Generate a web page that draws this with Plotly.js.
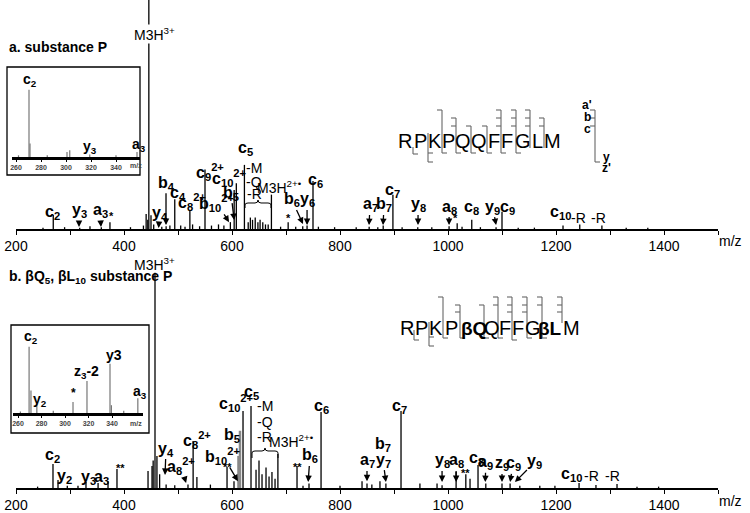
<!DOCTYPE html>
<html><head><meta charset="utf-8">
<script src="https://cdn.plot.ly/plotly-3.0.1.min.js"></script>
<style>html,body{margin:0;padding:0;background:#fff}#chart{width:750px;height:513px}</style>
</head><body><div id="chart"></div>
<script>
// ---------------- data ----------------
const tickVals = [200,300,400,500,600,700,800,900,1000,1100,1200,1300,1400,1500];
const tickText = ['200','','400','','600','','800','','1000','','1200','','1400',''];
const insetTickVals = [260,280,300,320,340];
const insetTickText = ['260','280','300','320','340'];

// panel a: substance P (m/z, relative intensity)
const aMz  = [250,269,290,318,337,358,374,412,436,441,444,446,450,455,470,478,485,494,505,513,522,527,540,550,562,575,585,597,604,608,623,630,634,638,643,648,652,657,662,667,673,690,704,718,731,739,750,760,790,830,854,870,880,898,915,944,970,1002,1017,1026,1044,1060,1089,1100,1130,1160,1213,1244,1285,1330,1370];
const aInt = [0.6,6.1,0.8,0.6,1.2,0.8,3,0.8,1.5,6.5,4,100,6,2,1,1.2,1.5,13,1.5,1,8.3,2,1.2,26,1.5,2,1.5,3,17,20,28,3,5,4,5,3,4,3,2,2,15,1,3,1,1.2,1.5,21,1,0.8,0.8,1,0.8,1.5,15,0.8,0.8,0.8,1.2,2.5,1,4,0.8,0.8,7.5,0.6,0.6,1.5,2,1.5,0.5,0.5];

// panel b: betaQ5, betaL10 substance P
const bMz  = [240,268.5,277.8,295,314.8,329.6,352,370.4,387,444.5,451.9,454,457.4,461,466,478,494,518.5,528,535,560,590.8,603.7,620.4,635.2,644.5,650,655.6,663,668.6,674,679.7,685,720.4,731.5,742.6,764.9,800,840.8,850,859,874,885,913,948,979.7,989,1015,1033,1040.8,1055.6,1070,1100,1115,1133,1170,1198,1242.7,1274,1313,1350,1390];
const bInt = [0.6,10.5,3.5,1,1,2.6,2.2,3,8.3,7.4,9.6,12,94,14,6,1.5,1.2,1.5,20.5,4.8,1.5,9.2,3,33.6,35.8,8,12,6,9,5,7,4,14.8,9.6,1,2,33.2,1,3,2,1.5,3,2,33.6,2,2,1.2,7,6,4,10,2,2,2,1,1,1,2.2,1.3,1.8,0.6,0.6];
const bGrayMz  = [612,614.8];
const bGrayInt = [14,25];

// insets (m/z 256-366)
const aInsetMz  = [262,270.4,271.2,285,300.8,303,319,340,356.8];
const aInsetInt = [2,79,16,2,6,8,3,2,6];
const bInsetMz  = [262,269.4,271,276,290,306.8,318.7,338.3,339.5,350,362];
const bInsetInt = [2,85,29,11.5,3,14,41,63,10,3,19];

// peptide sequences
const seqA = ['R','P','K','P','Q','Q','F','F','G','L','M'];
const seqB = ['R','P','K','P','βQ','Q','F','F','G','βL','M'];
const seqBBold = [false,false,false,false,true,false,false,false,false,true,false];

// ---------------- helpers ----------------
const W = 750, H = 513;
const X = px => px / W;
const Y = py => (H - py) / H;
const LF = '"Liberation Sans Narrow", "Liberation Sans", Arial, sans-serif';
const RF = '"Liberation Sans", Arial, sans-serif';

function sticks(mz, inten) {
  const x = [], y = [];
  for (let i = 0; i < mz.length; i++) { x.push(mz[i], mz[i], null); y.push(0, inten[i], null); }
  return {x, y};
}
function stickTrace(mz, inten, xa, ya, color, w) {
  const s = sticks(mz, inten);
  return {type:'scatter', mode:'lines', x:s.x, y:s.y, xaxis:xa, yaxis:ya,
          line:{color:color, width:w}, hoverinfo:'skip', showlegend:false, connectgaps:false};
}

const traces = [
  stickTrace(aMz, aInt, 'x', 'y', '#000', 1.3),
  stickTrace(bMz, bInt, 'x2', 'y2', '#000', 1.3),
  stickTrace(bGrayMz, bGrayInt, 'x2', 'y2', '#888', 2.5),
  stickTrace(aInsetMz, aInsetInt, 'x3', 'y3', '#777', 1.2),
  stickTrace(bInsetMz, bInsetInt, 'x4', 'y4', '#777', 1.2)
];

const annotations = [];
function lab(p, text, tx, ty, hx, hy, o) {
  o = o || {};
  const xr = p === 'a' ? 'x' : 'x2', yr = p === 'a' ? 'y' : 'y2';
  const a = {text:text, xref:xr, yref:yr, xanchor:'center', yanchor:'middle',
    font:{family:o.reg ? RF : LF, size:o.size || 16, color:'#000', weight:o.reg ? 'normal' : 'bold'},
    borderpad:0};
  if (o.bg) a.bgcolor = o.bg;
  if (hx == null) { a.x = tx; a.y = ty; a.showarrow = false; }
  else { a.x = hx; a.y = hy; a.ax = tx; a.ay = ty; a.axref = xr; a.ayref = yr; a.showarrow = true;
         a.arrowhead = 2; a.arrowsize = 1; a.arrowwidth = 1.3; a.arrowcolor = '#000'; a.standoff = 0; }
  annotations.push(a);
}

// panel a labels
lab('a','M3H<sup>3+</sup>',455.6,85,null,null,{reg:true,size:14,bg:'#fff'});
lab('a','c<sub>2</sub>',268.5,7);
lab('a','y<sub>3</sub>',316.7,7.9,316.7,0.9);
lab('a','a<sub>3</sub>',355.6,7.9,357.4,0.9);
lab('a','*',376,5.5,null,null,{size:11});
lab('a','b<sub>4</sub>',477.8,20,477.8,1.7);
lab('a','y<sub>4</sub>',466,6.8,464,0.4);
lab('a','c<sub>4</sub>',500,15.3);
lab('a','c<sub>8</sub><sup>2+</sup>',526,11.8);
lab('a','c<sub>9</sub><sup>2+</sup>',559,24.9);
lab('a','c<sub>10</sub><sup>2+</sup>',596,22.3);
lab('a','c<sub>5</sub>',625,35);
lab('a','b<sub>5</sub>',598,15.7,604,3.9);
lab('a','b<sub>10</sub><sup>2+</sup>',572,11.4,594.5,3);
lab('a','-M',641,26.6,null,null,{reg:true,size:14});
lab('a','-Q',641,20.5,null,null,{reg:true,size:14});
lab('a','-R',641,15.3,null,null,{reg:true,size:14});
lab('a','M3H<sup>2+•</sup>',688,18.3,null,null,{reg:true,size:14});
lab('a','*',704,5,null,null,{size:11});
lab('a','b<sub>6</sub>',711,12.7,731.5,2.2);
lab('a','y<sub>6</sub>',739,12.7,739,1.7);
lab('a','c<sub>6</sub>',753.7,21);
lab('a','a<sub>7</sub>',855.6,10.5,853.8,1.7);
lab('a','b<sub>7</sub>',881.6,10.5,879.7,1.7);
lab('a','c<sub>7</sub>',898,17);
lab('a','y<sub>8</sub>',944.6,10.5,944.5,1.7);
lab('a','a<sub>8</sub>',1002,9.6,1002,1.7);
lab('a','*',1013,5,null,null,{size:11});
lab('a','c<sub>8</sub>',1042.7,9.6);
lab('a','y<sub>9</sub>',1083,9.6,1089,1.7);
lab('a','c<sub>9</sub>',1111,9.6);
lab('a','c<sub>10</sub>',1209,7);
lab('a','-R',1241,4.8,null,null,{reg:true,size:14});
lab('a','-R',1278,4.8,null,null,{reg:true,size:14});

// panel b labels
lab('b','M3H<sup>3+</sup>',456,97.8,null,null,{reg:true,size:14});
lab('b','c<sub>2</sub>',266.7,14);
lab('b','y<sub>2</sub>',289,5.2);
lab('b','y<sub>3</sub>',335,4.4);
lab('b','a<sub>3</sub>',359,4.4);
lab('b','**',392.6,8.7,null,null,{size:11});
lab('b','y<sub>4</sub>',477.8,17,476,5.7);
lab('b','a<sub>8</sub><sup>2+</sup>',505.6,9.6,515,2.2);
lab('b','c<sub>8</sub><sup>2+</sup>',535,21);
lab('b','**',591,9,null,null,{size:11});
lab('b','b<sub>10</sub><sup>2+</sup>',583,14,611,3);
lab('b','b<sub>5</sub>',600,23);
lab('b','c<sub>10</sub><sup>2+</sup>',609,37);
lab('b','c<sub>5</sub>',637,41.5);
lab('b','-M',661,35.8,null,null,{reg:true,size:14});
lab('b','-Q',661,28.8,null,null,{reg:true,size:14});
lab('b','-R',661,22.3,null,null,{reg:true,size:14});
lab('b','M3H<sup>2+•</sup>',711,20.5,null,null,{reg:true,size:14});
lab('b','**',722,9.2,null,null,{size:11});
lab('b','b<sub>6</sub>',744.5,14,741,2.6);
lab('b','c<sub>6</sub>',765,35.4);
lab('b','a<sub>7</sub>',850,11.8,850,3);
lab('b','b<sub>7</sub>',879.7,18.8);
lab('b','y<sub>7</sub>',879.7,12.2,885,2.6);
lab('b','c<sub>7</sub>',911,35.8);
lab('b','y<sub>8</sub>',989,11.8,989,2.6);
lab('b','a<sub>8</sub>',1015,11.8,1015,2.6);
lab('b','**',1033,6.5,null,null,{size:11});
lab('b','c<sub>8</sub>',1053,13);
lab('b','a<sub>9</sub>',1070,11,1069,2.6);
lab('b','z<sub>9</sub>',1100,10.5,1100,2.6);
lab('b','c<sub>9</sub>',1120.5,10.5,1115,2.6);
lab('b','y<sub>9</sub>',1161,11.4,1124,2.6);
lab('b','c<sub>10</sub>',1229.6,5.7);
lab('b','-R',1265,5.2,null,null,{reg:true,size:14});
lab('b','-R',1303.7,5.2,null,null,{reg:true,size:14});

// panel titles and axis labels
function paperText(text, px, py, o) {
  o = o || {};
  annotations.push({text:text, xref:'paper', yref:'paper', x:X(px), y:Y(py), showarrow:false,
    xanchor:o.xa || 'center', yanchor:'middle',
    font:{family:o.fam || RF, size:o.size || 14, color:o.color || '#000', weight:o.bold ? 'bold' : 'normal'}});
}
paperText('a. substance P', 7, 47, {xa:'left', bold:true, size:14});
paperText('b. βQ<sub>5</sub>, βL<sub>10</sub> substance P', 7, 277, {xa:'left', bold:true, size:14});
paperText('m/z', 730, 241, {size:14});
paperText('m/z', 730, 501, {size:14});

// inset labels
function insetText(p, text, mz, v, size) {
  annotations.push({text:text, xref:p === 'a' ? 'x3' : 'x4', yref:p === 'a' ? 'y3' : 'y4', x:mz, y:v,
    showarrow:false, xanchor:'center', yanchor:'middle',
    font:{family:LF, size:size || 14, color:'#000', weight:'bold'}});
}
insetText('a','c<sub>2</sub>',271.2,90.6);
insetText('a','y<sub>3</sub>',319,11.8);
insetText('a','a<sub>3</sub>',358.5,14);
insetText('b','c<sub>2</sub>',271,97);
insetText('b','y<sub>2</sub>',278.7,16.7);
insetText('b','*',306.8,25.6,12);
insetText('b','z<sub>3</sub>-2',318.7,52.6);
insetText('b','y3',341.7,74);
insetText('b','a<sub>3</sub>',363.8,27);
paperText('m/z', 136, 165, {size:7, bold:true, color:'#444'});
paperText('m/z', 136, 423, {size:7, bold:true, color:'#444'});

// peptide sequences
const seqAX = [405,420,435,448,463,479,494,507,523,537,552];
const seqBX = [407,421,436,451,474,492,505,518,533,550,571];
seqA.forEach((s,i) => paperText(s, seqAX[i], 141, {size:20, fam:LF}));
seqB.forEach((s,i) => paperText(s, seqBX[i], 328, {size:seqBBold[i] ? 19 : 20, fam:LF, bold:seqBBold[i]}));

// shapes
const shapes = [];
const GC = '#666';
function pline(x0,y0,x1,y1,c,w){ shapes.push({type:'line', xref:'paper', yref:'paper', x0:X(x0), y0:Y(y0), x1:X(x1), y1:Y(y1), line:{color:c||GC, width:w||1.1}}); }
function site(s){
  const [x, t, b, lt, rt] = s;
  pline(x, t, x, b);
  lt.forEach(yy => pline(x-5, yy, x, yy));
  rt.forEach(yy => pline(x, yy, x+5, yy));
}
const sitesA = [
  [413,147,154,[],[154]],
  [428,133,162,[],[153,162]],
  [442,110,153,[110],[153]],
  [456,118,153,[118,126],[153]],
  [471,126,153,[126],[153]],
  [487,126,153,[126],[153]],
  [501,110,153,[110,118,126],[153]],
  [516,110,153,[110,118,126],[153]],
  [530,110,148,[110,118,126],[]],
  [544,118,148,[118,126],[]]
];
const sitesB = [
  [414,330,340,[],[340]],
  [429,322,346,[],[337,346]],
  [443,297,338,[297],[338]],
  [460,305,338,[305,312],[338]],
  [484,305,338,[305],[338]],
  [498,297,338,[297,305],[338]],
  [512,297,340,[297,305,312],[340]],
  [527,297,338,[297,305,312],[338]],
  [542,297,338,[297,305],[338]],
  [562,297,323,[297,305,312],[]]
];
sitesA.forEach(site); sitesB.forEach(site);
site([595,110,162,[110,118,126],[162]]);
paperText("a'", 587, 105, {size:12, fam:LF, bold:true});
paperText('b', 587, 117, {size:12, fam:LF, bold:true});
paperText('c', 587, 129, {size:12, fam:LF, bold:true});
paperText('y', 606, 157, {size:12, fam:LF, bold:true});
paperText("z'", 606, 168, {size:12, fam:LF, bold:true});

// inset boxes
shapes.push({type:'rect', xref:'paper', yref:'paper', x0:X(7), y0:Y(175), x1:X(140), y1:Y(67), line:{color:'#000', width:1.3}});
shapes.push({type:'rect', xref:'paper', yref:'paper', x0:X(11), y0:Y(433), x1:X(149), y1:Y(325), line:{color:'#000', width:1.3}});

// curly braces
function brace(x0, x1, yTop, yBot){
  const m = (x0+x1)/2, y1 = yTop+3;
  const P = (a,b) => X(a).toFixed(5)+','+Y(b).toFixed(5);
  const d = 'M'+P(x0,yBot)+' L'+P(x0,y1+2)+' Q'+P(x0,y1)+' '+P(x0+3,y1)+' L'+P(m-3,y1)+' Q'+P(m,y1)+' '+P(m,yTop)+
            ' Q'+P(m,y1)+' '+P(m+3,y1)+' L'+P(x1-3,y1)+' Q'+P(x1,y1)+' '+P(x1,y1+2)+' L'+P(x1,yBot);
  shapes.push({type:'path', xref:'paper', yref:'paper', path:d, line:{color:'#000', width:1}});
}
brace(245, 271, 200, 208);
brace(252, 278, 448, 458);

// ---------------- layout ----------------
const mainX = (anchor) => ({domain:[X(16), X(718)], range:[200,1500], anchor:anchor,
  showline:true, linecolor:'#000', linewidth:1.6, ticks:'outside', ticklen:4, tickwidth:1, tickcolor:'#000',
  tickvals:tickVals, ticktext:tickText, tickfont:{family:RF, size:14, color:'#000'},
  showgrid:false, zeroline:false, fixedrange:true});
const insetX = (anchor, x0, x1, r) => ({domain:[X(x0), X(x1)], range:r, anchor:anchor,
  showline:true, linecolor:'#000', linewidth:2.5, ticks:'outside', ticklen:2, tickwidth:1, tickcolor:'#000',
  tickvals:insetTickVals, ticktext:insetTickText, tickfont:{family:RF, size:7, color:'#444', weight:'bold'},
  showgrid:false, zeroline:false, fixedrange:true});
const hidY = (anchor, yb, yt) => ({domain:[Y(yb), Y(yt)], range:[0,100], anchor:anchor, visible:false, fixedrange:true});

const layout = {
  width:W, height:H, margin:{l:0, r:0, t:0, b:0}, paper_bgcolor:'#fff', plot_bgcolor:'rgba(0,0,0,0)',
  showlegend:false,
  xaxis: mainX('y'), yaxis: hidY('x', 229, 0),
  xaxis2: mainX('y2'), yaxis2: hidY('x2', 488, 259),
  xaxis3: insetX('y3', 12, 140, [256.8, 359.2]), yaxis3: hidY('x3', 157, 72),
  xaxis4: insetX('y4', 13, 143, [255.7, 366.4]), yaxis4: hidY('x4', 413, 335),
  annotations: annotations, shapes: shapes
};

Plotly.newPlot('chart', traces, layout, {staticPlot:true, displayModeBar:false});
</script></body></html>
